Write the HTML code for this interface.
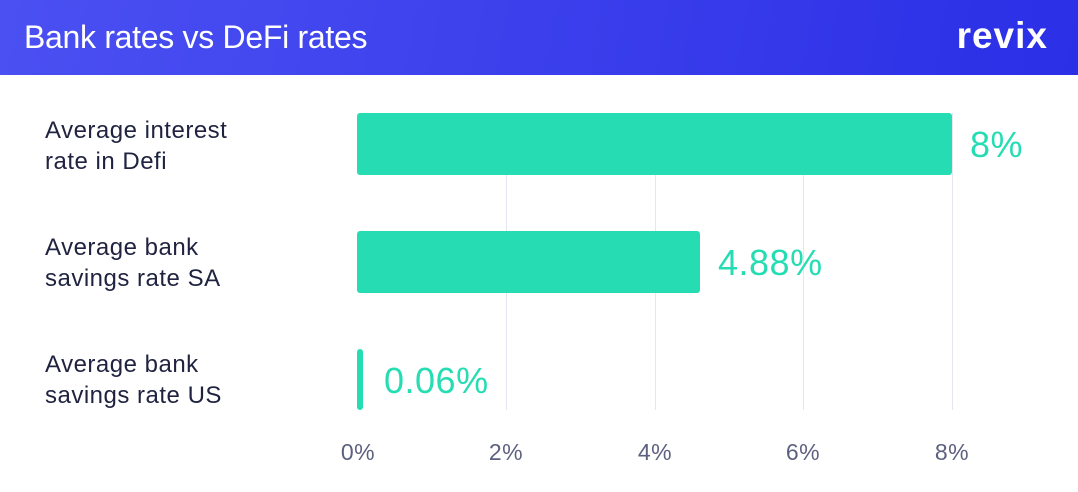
<!DOCTYPE html>
<html><head><style>
body{margin:0;width:1078px;height:492px;background:#fff;font-family:"Liberation Sans",sans-serif;position:relative;overflow:hidden}
.hdr{position:absolute;left:0;top:0;width:1078px;height:75px;background:linear-gradient(100deg,#4b50f2,#2b2fe6)}
.t{position:absolute;left:24px;top:19px;color:#fff;font-size:32px;letter-spacing:-0.3px}
.logo{position:absolute;right:30px;top:15px;color:#fff;font-size:37px;font-weight:bold;letter-spacing:1px}
.g{position:absolute;top:113px;height:297px;width:1px;background:#e6e6f2}
.bar{position:absolute;background:#26ddb3;border-radius:3px}
.lab{position:absolute;left:45px;color:#1f2340;font-size:24px;line-height:31px;letter-spacing:0.5px}
.val{position:absolute;color:#26ddb3;font-size:36px;letter-spacing:0.5px}
.tk{position:absolute;top:439px;color:#5d6180;font-size:23px;width:70px;text-align:center;letter-spacing:0.5px}
</style></head><body>
<div class="hdr"><div class="t">Bank rates vs DeFi rates</div><div class="logo">revix</div></div>
<div class="g" style="left:506px"></div><div class="g" style="left:655px"></div><div class="g" style="left:803px"></div><div class="g" style="left:952px"></div>
<div class="bar" style="left:357px;top:113px;width:595px;height:62px"></div>
<div class="bar" style="left:357px;top:231px;width:343px;height:62px"></div>
<div class="bar" style="left:357px;top:349px;width:6px;height:61px"></div>
<div class="lab" style="top:115px">Average interest<br>rate in Defi</div>
<div class="lab" style="top:232px">Average bank<br>savings rate SA</div>
<div class="lab" style="top:349px">Average bank<br>savings rate US</div>
<div class="val" style="left:970px;top:124px">8%</div>
<div class="val" style="left:718px;top:242px">4.88%</div>
<div class="val" style="left:384px;top:360px">0.06%</div>
<div class="tk" style="left:323px">0%</div><div class="tk" style="left:471px">2%</div><div class="tk" style="left:620px">4%</div><div class="tk" style="left:768px">6%</div><div class="tk" style="left:917px">8%</div>
</body></html>
